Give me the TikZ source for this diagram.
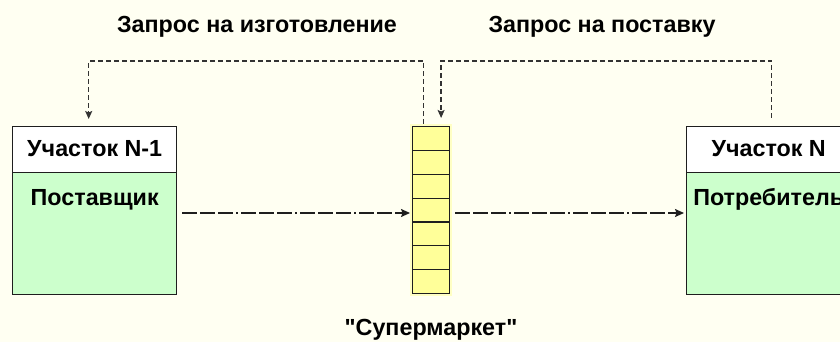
\documentclass[tikz,border=0pt]{standalone}
\usepackage{fontspec}
\setmainfont{Liberation Sans}[Ligatures=TeXOff]
\usetikzlibrary{arrows.meta}
\definecolor{bg}{HTML}{FFFFF2}
\definecolor{boxgreen}{HTML}{CCFFCC}
\definecolor{stackyellow}{HTML}{FFFF99}
\definecolor{halo}{HTML}{FFFFC4}
\definecolor{ln}{HTML}{1E1E1E}
\definecolor{dl}{HTML}{333333}
\tikzset{
  txt/.style={font=\fontsize{23.3}{26}\selectfont\bfseries, text=black, inner sep=0pt, anchor=base},
  headbox/.style={draw=ln, line width=1.4pt, fill=white, minimum width=164pt, minimum height=46pt, anchor=north west, inner sep=0pt},
  bodybox/.style={draw=ln, line width=1.4pt, fill=boxgreen, minimum width=164pt, minimum height=122pt, anchor=north west, inner sep=0pt},
  cell/.style={draw=ln, line width=1.2pt, fill=stackyellow, minimum width=37pt, minimum height=23.85pt, anchor=north west, inner sep=0pt},
  flow/.style={draw=ln, line width=1.4pt, dash pattern=on 15pt off 3pt on 15pt off 3pt on 15pt off 3pt on 2pt off 3pt, -{Stealth[length=9pt,width=8pt,inset=1.5pt]}},
  req/.style={draw=dl, line width=1.3pt, dash pattern=on 5pt off 3pt, -{Stealth[length=8pt,width=7pt,inset=1.5pt]}}
}
\begin{document}
\begin{tikzpicture}[x=1pt,y=-1pt]
\fill[bg] (0,0) rectangle (840,342);
\useasboundingbox (0,0) rectangle (840,342);
% left box
\node[headbox] (h1) at (12,126) {};
\node[bodybox] (b1) at (12,172) {};
% right box
\node[headbox] (h2) at (686,126) {};
\node[bodybox] (b2) at (686,172) {};
% stack
\fill[halo] (410,124) rectangle (452,296);
\foreach \i in {1,...,7} {
  \node[cell] (c\i) at (412,{126+(\i-1)*23.85}) {};
}
% texts
\node[txt] (t1) at (h1.north |- 0,157) {Участок N-1};
\node[txt] (t2) at (b1.north |- 0,205) {Поставщик};
\node[txt] (t3) at (h2.north |- 0,157) {Участок N};
\node[txt] (t4) at (b2.north |- 0,205) {Потребитель};
\node[txt] (t5) at (257,33) {Запрос на изготовление};
\node[txt] (t6) at (602,33) {Запрос на поставку};
\node[txt] (t7) at (431,335) {"Супермаркет"};
% flows
\coordinate (fy) at (0,213);
\draw[flow, shorten <=5pt, shorten >=2pt] (b1.east |- fy) -- (c4.west |- fy);
\draw[flow, shorten <=5pt, shorten >=2pt] (c4.east |- fy) -- (b2.west |- fy);
% requests
\draw[req, shorten <=2pt, shorten >=7pt] ([xshift=-7.5pt]c1.north) -- ++(0,-65) -| ([xshift=-6pt]h1.north);
\draw[req, shorten <=8pt, shorten >=8pt] ([xshift=3pt]h2.north) -- ++(0,-65) -| ([xshift=10pt]c1.north);
\end{tikzpicture}
\end{document}
